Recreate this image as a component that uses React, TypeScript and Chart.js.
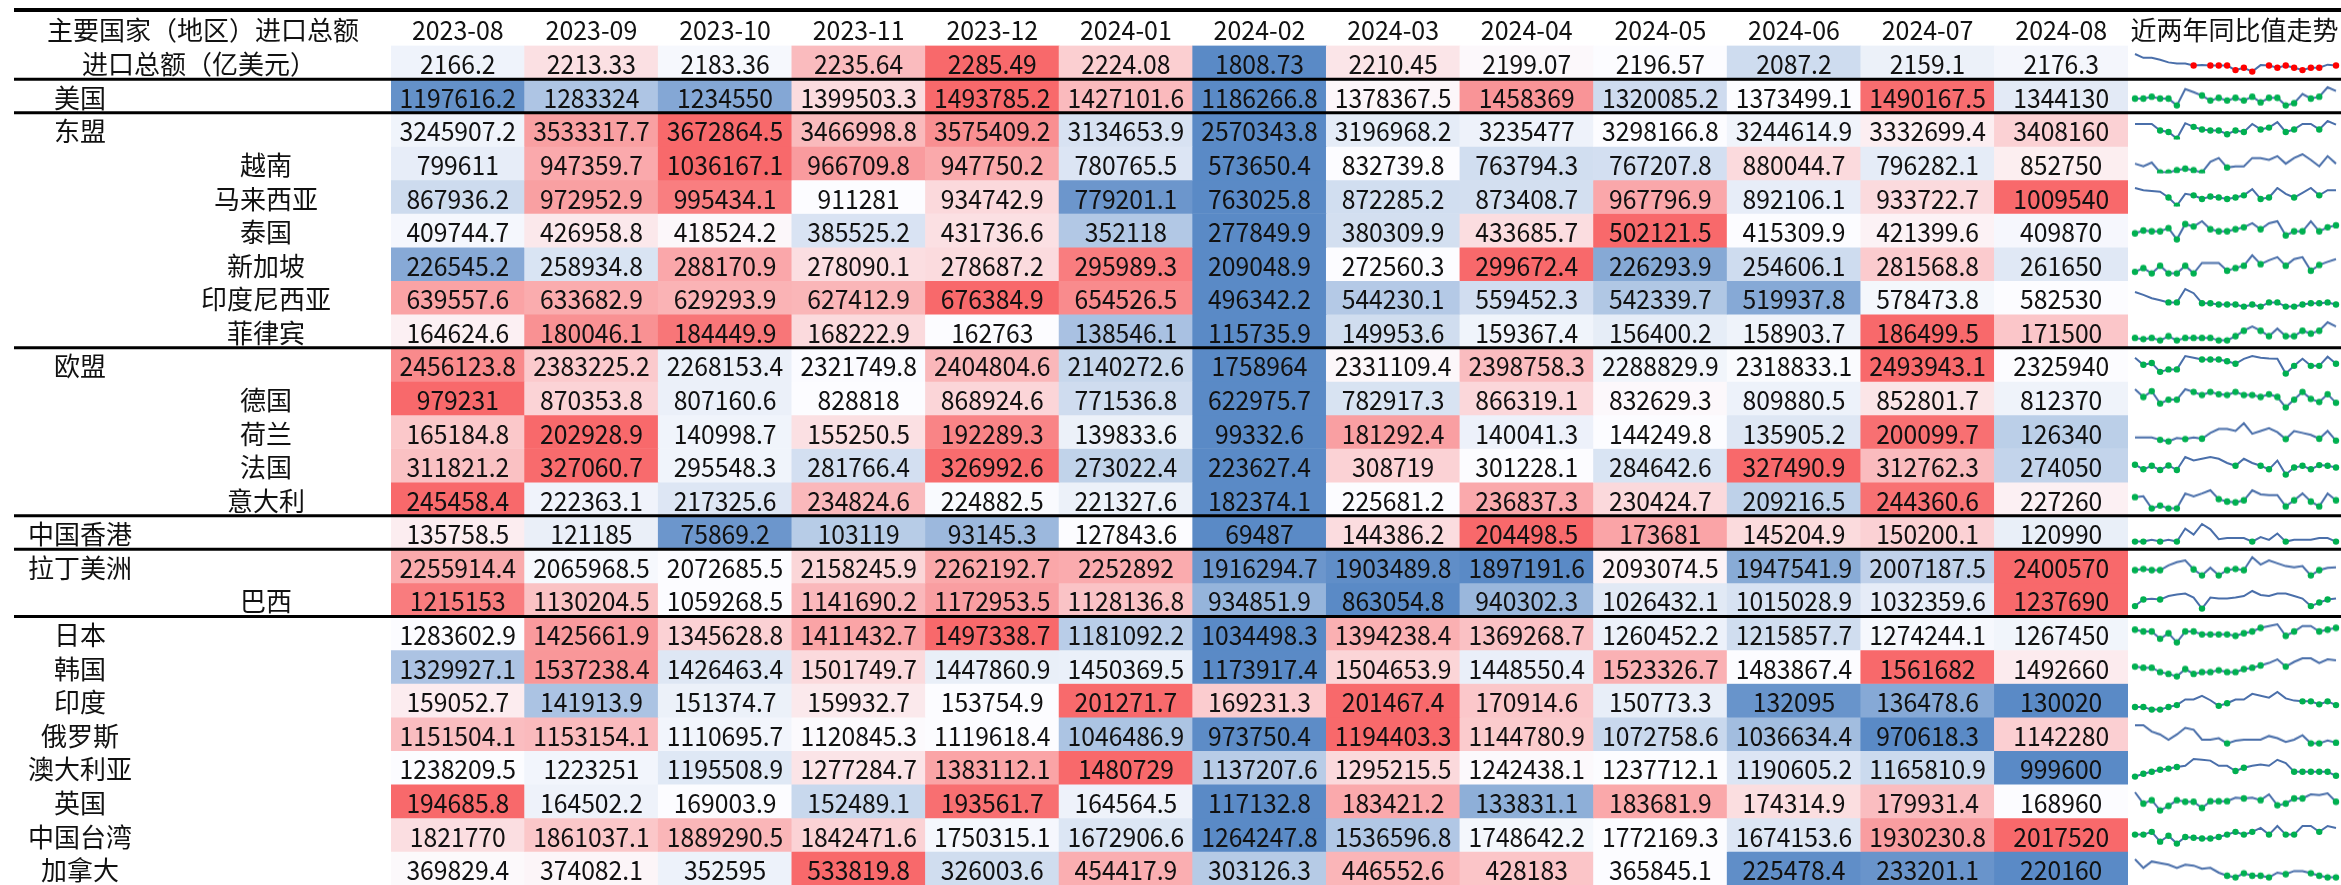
import React, { useEffect, useRef } from 'react';
import { Chart, registerables } from 'chart.js';

Chart.register(...registerables);

// ---------- categories & tick labels ----------
const months = ['2023-08', '2023-09', '2023-10', '2023-11', '2023-12', '2024-01', '2024-02', '2024-03', '2024-04', '2024-05', '2024-06', '2024-07', '2024-08'];
const trendMonths = ['2022-08', '2022-09', '2022-10', '2022-11', '2022-12', '2023-01', '2023-02', '2023-03', '2023-04', '2023-05', '2023-06', '2023-07', '2023-08', '2023-09', '2023-10', '2023-11', '2023-12', '2024-01', '2024-02', '2024-03', '2024-04', '2024-05', '2024-06', '2024-07', '2024-08'];
const headerTitle = '主要国家（地区）进口总额';
const trendTitle = '近两年同比值走势';
const rowNames = ['进口总额（亿美元）', '美国', '东盟', '越南', '马来西亚', '泰国', '新加坡', '印度尼西亚', '菲律宾', '欧盟', '德国', '荷兰', '法国', '意大利', '中国香港', '拉丁美洲', '巴西', '日本', '韩国', '印度', '俄罗斯', '澳大利亚', '英国', '中国台湾', '加拿大'];
// 0 = total row, 1 = country / region, 2 = member of the group above
const rowLevels = [0, 1, 1, 2, 2, 2, 2, 2, 2, 1, 2, 2, 2, 2, 1, 1, 2, 1, 1, 1, 1, 1, 1, 1, 1];
// group separators drawn after these rows
const separatorAfter = [0, 1, 8, 13, 14, 16];

// ---------- monthly import values ----------
const totalImports = [2166.2, 2213.33, 2183.36, 2235.64, 2285.49, 2224.08, 1808.73, 2210.45, 2199.07, 2196.57, 2087.2, 2159.1, 2176.3];
const usa = [1197616.2, 1283324, 1234550, 1399503.3, 1493785.2, 1427101.6, 1186266.8, 1378367.5, 1458369, 1320085.2, 1373499.1, 1490167.5, 1344130];
const asean = [3245907.2, 3533317.7, 3672864.5, 3466998.8, 3575409.2, 3134653.9, 2570343.8, 3196968.2, 3235477, 3298166.8, 3244614.9, 3332699.4, 3408160];
const vietnam = [799611, 947359.7, 1036167.1, 966709.8, 947750.2, 780765.5, 573650.4, 832739.8, 763794.3, 767207.8, 880044.7, 796282.1, 852750];
const malaysia = [867936.2, 972952.9, 995434.1, 911281, 934742.9, 779201.1, 763025.8, 872285.2, 873408.7, 967796.9, 892106.1, 933722.7, 1009540];
const thailand = [409744.7, 426958.8, 418524.2, 385525.2, 431736.6, 352118, 277849.9, 380309.9, 433685.7, 502121.5, 415309.9, 421399.6, 409870];
const singapore = [226545.2, 258934.8, 288170.9, 278090.1, 278687.2, 295989.3, 209048.9, 272560.3, 299672.4, 226293.9, 254606.1, 281568.8, 261650];
const indonesia = [639557.6, 633682.9, 629293.9, 627412.9, 676384.9, 654526.5, 496342.2, 544230.1, 559452.3, 542339.7, 519937.8, 578473.8, 582530];
const philippines = [164624.6, 180046.1, 184449.9, 168222.9, 162763, 138546.1, 115735.9, 149953.6, 159367.4, 156400.2, 158903.7, 186499.5, 171500];
const eu = [2456123.8, 2383225.2, 2268153.4, 2321749.8, 2404804.6, 2140272.6, 1758964, 2331109.4, 2398758.3, 2288829.9, 2318833.1, 2493943.1, 2325940];
const germany = [979231, 870353.8, 807160.6, 828818, 868924.6, 771536.8, 622975.7, 782917.3, 866319.1, 832629.3, 809880.5, 852801.7, 812370];
const netherlands = [165184.8, 202928.9, 140998.7, 155250.5, 192289.3, 139833.6, 99332.6, 181292.4, 140041.3, 144249.8, 135905.2, 200099.7, 126340];
const france = [311821.2, 327060.7, 295548.3, 281766.4, 326992.6, 273022.4, 223627.4, 308719, 301228.1, 284642.6, 327490.9, 312762.3, 274050];
const italy = [245458.4, 222363.1, 217325.6, 234824.6, 224882.5, 221327.6, 182374.1, 225681.2, 236837.3, 230424.7, 209216.5, 244360.6, 227260];
const hongKong = [135758.5, 121185, 75869.2, 103119, 93145.3, 127843.6, 69487, 144386.2, 204498.5, 173681, 145204.9, 150200.1, 120990];
const latinAmerica = [2255914.4, 2065968.5, 2072685.5, 2158245.9, 2262192.7, 2252892, 1916294.7, 1903489.8, 1897191.6, 2093074.5, 1947541.9, 2007187.5, 2400570];
const brazil = [1215153, 1130204.5, 1059268.5, 1141690.2, 1172953.5, 1128136.8, 934851.9, 863054.8, 940302.3, 1026432.1, 1015028.9, 1032359.6, 1237690];
const japan = [1283602.9, 1425661.9, 1345628.8, 1411432.7, 1497338.7, 1181092.2, 1034498.3, 1394238.4, 1369268.7, 1260452.2, 1215857.7, 1274244.1, 1267450];
const korea = [1329927.1, 1537238.4, 1426463.4, 1501749.7, 1447860.9, 1450369.5, 1173917.4, 1504653.9, 1448550.4, 1523326.7, 1483867.4, 1561682, 1492660];
const india = [159052.7, 141913.9, 151374.7, 159932.7, 153754.9, 201271.7, 169231.3, 201467.4, 170914.6, 150773.3, 132095, 136478.6, 130020];
const russia = [1151504.1, 1153154.1, 1110695.7, 1120845.3, 1119618.4, 1046486.9, 973750.4, 1194403.3, 1144780.9, 1072758.6, 1036634.4, 970618.3, 1142280];
const australia = [1238209.5, 1223251, 1195508.9, 1277284.7, 1383112.1, 1480729, 1137207.6, 1295215.5, 1242438.1, 1237712.1, 1190605.2, 1165810.9, 999600];
const uk = [194685.8, 164502.2, 169003.9, 152489.1, 193561.7, 164564.5, 117132.8, 183421.2, 133831.1, 183681.9, 174314.9, 179931.4, 168960];
const taiwan = [1821770, 1861037.1, 1889290.5, 1842471.6, 1750315.1, 1672906.6, 1264247.8, 1536596.8, 1748642.2, 1772169.3, 1674153.6, 1930230.8, 2017520];
const canada = [369829.4, 374082.1, 352595, 533819.8, 326003.6, 454417.9, 303126.3, 446552.6, 428183, 365845.1, 225478.4, 233201.1, 220160];

// ---------- year-on-year trend (last two years, %) ----------
const trendTotal = [14.8, 9.8, 9.8, 7.3, 3.8, 2.3, 2.3, -0.3, 0.2, -0.3, -0.3, -0.3, -6.3, -3.3, -8.3, 0.2, -0.3, -3.3, -0.3, -3.3, -6.3, -3.3, -3.3, 0.8, -0.3];
const trendUSA = [-5, -5, -2.5, -5, -5, -14, 7.5, 3.5, -1, -7.5, -4, -7.5, -4, -7.5, -2.5, -10, -4, -4, -14, -11, 1, -5, -2.5, 10, 5];
const trendASEAN = [2.5, 2.5, 2.5, -6.5, -8.5, -17.5, 3.5, -1.5, -5, -6.5, -6.5, -11.5, -6.5, -8.5, 2.5, -5, -2.5, 5, -8.5, -5, 2.5, 2.5, -5, 6.5, 1.5];
const trendVietnam = [4.3, 0.8, 5.8, -7.3, -7.3, -4.3, -2.3, -4.3, -7.3, 6.8, 11.8, -0.8, 0.8, 0.8, 11.8, 11.8, 9.3, 14.3, 4.3, 11.8, 16.8, 9.3, 0.8, 14.3, 4.3];
const trendMalaysia = [8.5, 5.5, 4.5, 3.5, -4.5, -15.5, 0.5, -1.5, -6.5, -3, -4.5, -6.5, -4.5, -1.5, 7, -6.5, -4.5, 8.5, 0.5, -4.5, 2, 8.5, -1.5, 5.5, 5.5];
const trendThailand = [-12, -8.5, -9.5, -9.5, -5.5, -19.5, -0.5, -3.5, 3, -7, -9.5, -9.5, -7, -4.5, 0.5, -7, 0.5, 3, -14.5, -9.5, -9.5, 3, -9.5, -4.5, -2];
const trendSingapore = [-10.8, -5.8, -12.8, -2.8, -12.8, -12.8, -2.8, -12.8, 0.8, 0.8, 0.8, -9.3, -5.8, -2.8, 10.8, -0.8, 4.3, 8.3, -2.8, 5.8, 8.3, -9.3, -1.8, 2.3, 5.8];
const trendIndonesia = [11, 7.5, 3.5, 1, -1.5, -1.5, 14.5, 9.5, -2.5, -2.5, -4, -4, -4, -6.5, -4, -6.5, -1.5, -1.5, -6.5, -6.5, -4, -2.5, -2.5, -1.5, -4];
const trendPhilippines = [-10, -11.5, -10, -13, -8, -13, -10, -10, -10, -10, -13, -13, -8, -1.5, 3.5, -1.5, -8, 1, -8, -8, -1.5, -5, -1.5, 8.5, 3.5];
const trendEU = [2, -8, -5.5, -18, -14.5, -14.5, 4.5, 2, -0.5, -0.5, -0.5, -3, -6.5, 0.5, 4.5, 2, 1, 0.5, -20.5, -9.5, 0.5, -9.5, -9.5, 3.5, -6.5];
const trendGermany = [1, -9, -1.5, -17.5, -12.5, -12.5, 1, -2.5, -6.5, -2.5, -5.5, -6.5, -2.5, -6.5, -6.5, -9, -5.5, -9, -22.5, -12.5, -2.5, -11.5, -15.5, -5.5, -16.5];
const trendNetherlands = [1, 1, 1, -2, -4, 0.5, -1, 1, -0.5, 7, 12, 12, 9.5, 19.5, 6, 9.5, 13, 8, -1, 9.5, 7, 4.5, -0.5, 9.5, -3];
const trendFrance = [-1, -7.5, -2.5, -8.5, -2, -8.5, 10, 5, 7.5, 10, 7.5, 1.5, -2.5, 7.5, 1.5, -2.5, -7.5, 5, -15, -5, -2.5, -7.5, -1.5, -2.5, -5];
const trendItaly = [-0.5, 0.5, -14.5, -11, -14.5, -14.5, 4, 0.5, 4, 8, -3, -6, -7, -4.5, 8, 3, 2, 2, -12, -4.5, 4, -6, -12, 4, -4.5];
const trendHongKong = [-1.5, -1.5, 1, -1.5, 1, -1.5, 17, 8.5, 23.5, 16, 2, 3.5, 3.5, 3.5, -1.5, 5, 1, 10, -1.5, 1, 1, 1, 3.5, 3.5, -1.5];
const trendLatinAmerica = [-2.5, -1, -2.5, -2.5, 3.5, 7.5, 9.5, -1.5, -9, 0.5, -9, -2.5, -1, -2.5, 13.5, 4.5, 9.5, 6, 2.5, 1, 2.5, -9, -2.5, 0.5, 1];
const trendBrazil = [-7, -0.5, 0.2, -0.5, 3, 4.5, 5.5, 1.5, -9.5, 1.5, 0.5, 0.5, 1.5, 3, 8, 4, 3, 5.5, 5.5, 3, 0.5, -7, -3.5, -0.5, 0.5];
const trendJapan = [-3.5, -6, -6, -16, -8.5, -21, -6, -6, -10, -10, -10, -10, -12, -8.5, -6, -1, 1.5, 4, -12, -6, 1.5, 1.5, -6, -3.5, -1];
const trendKorea = [-2.5, -4, -4, -10, -12.5, -16, -6, -12.5, -10, -10, -7.5, -10, -10, -6, -4, -1, 2.5, 7.5, -2.5, 4, 9, 9, 2.5, 7.5, 6];
const trendIndia = [-8, -8, -11.5, -11.5, -8, -5.5, 2, 2, 7, 1, -6.5, -3, 2, 2, 9.5, 7, 4.5, 12, 3.5, 0.5, -0.5, -0.5, -4.5, -0.5, -5.5];
const trendRussia = [23, 23, 14.5, 10.5, 3.5, 10.5, 19.5, 17, 3.5, 3.5, 5.5, -1.5, 2, 3.5, 3.5, 3.5, 8.5, 5.5, 0.5, 3.5, 9.5, -1.5, -1.5, 2.5, -0.5];
const trendAustralia = [-12.5, -9, -6.5, -4, -2.5, -0.5, 1, 9.5, 8.5, 7.5, 1, 1, -5.5, -1.5, 1, 2.5, 1, 8.5, 4.5, -6.5, -6.5, -6.5, -6.5, -6.5, -11.5];
const trendUK = [8.5, -8, -3, -18, -11.5, -3, -5.5, -5.5, -14.5, -4.5, -4.5, -4.5, 0.5, -0.5, 0.5, -3, 5.5, -10.5, -8, -0.5, -0.5, 5.5, 4.5, 7, -5.5];
const trendTaiwan = [-6, -6, -2.5, -15, -7.5, -17.5, -9, -10, -11, -11, -9, -6, -2.5, -6, -2.5, 2.5, -6, 5, -6, -6, 5, 5, -2.5, 5, 2.5];
const trendCanada = [21.5, 8, 18, 15.5, 13, 8, 13, 11.5, 6.5, 8, 0.5, -4.5, -7, -0.5, -4.5, -4.5, -7, 0.5, -2, 3, 3, -0.5, -4.5, -7, -7];

const tableRows = [totalImports, usa, asean, vietnam, malaysia, thailand, singapore, indonesia, philippines, eu, germany, netherlands, france, italy, hongKong, latinAmerica, brazil, japan, korea, india, russia, australia, uk, taiwan, canada];
const trendRows = [trendTotal, trendUSA, trendASEAN, trendVietnam, trendMalaysia, trendThailand, trendSingapore, trendIndonesia, trendPhilippines, trendEU, trendGermany, trendNetherlands, trendFrance, trendItaly, trendHongKong, trendLatinAmerica, trendBrazil, trendJapan, trendKorea, trendIndia, trendRussia, trendAustralia, trendUK, trendTaiwan, trendCanada];

// ---------- layout & style ----------
const W = 2341;
const H = 885;
const LABEL_RIGHT = 391;
const SPARK_W = 213;
const HEADER_BOTTOM = 45.6;
const ROW_H = (H - HEADER_BOTTOM) / tableRows.length;
const FONT = '"Noto Sans CJK SC", "Noto Sans", sans-serif';
const BLUE = [90, 138, 198];
const MID = [252, 252, 255];
const RED = [248, 105, 107];

function mix(a: number[], b: number[], t: number) {
  const c = a.map((v, k) => Math.round(v + (b[k] - v) * Math.max(0, Math.min(1, t))));
  return `rgb(${c[0]},${c[1]},${c[2]})`;
}

// three-colour scale per row (min blue, 50th percentile white, max red)
function cellColor(v: number, row: number[]) {
  const s = [...row].sort((a, b) => a - b);
  const min = s[0];
  const max = s[s.length - 1];
  const pos = (s.length - 1) * 0.5;
  const lo = Math.floor(pos);
  const hi = Math.ceil(pos);
  const med = s[lo] + (s[hi] - s[lo]) * (pos - lo);
  if (v <= med) return mix(BLUE, MID, med === min ? 1 : (v - min) / (med - min));
  return mix(MID, RED, (v - med) / (max - med));
}

function drawCondensed(ctx: CanvasRenderingContext2D, text: string, x: number, y: number, sx: number) {
  ctx.save();
  ctx.translate(x, y);
  ctx.scale(sx, 1);
  ctx.fillText(text, 0, 0);
  ctx.restore();
}

const tablePlugin = {
  id: 'tableText',
  afterDatasetsDraw(chart: any) {
    const ctx: CanvasRenderingContext2D = chart.ctx;
    const xs = chart.scales.x;
    const ys = chart.scales.y;
    ctx.save();
    ctx.fillStyle = '#111';
    ctx.textAlign = 'center';
    ctx.textBaseline = 'middle';
    ctx.font = `26px ${FONT}`;

    const hy = ys.getPixelForValue(-0.5) + 1.5;
    ctx.fillText(headerTitle, 203, hy);
    months.forEach((m, j) => drawCondensed(ctx, m, xs.getPixelForValue(j), hy, 0.96));
    ctx.fillText(trendTitle, chart.chartArea.right + SPARK_W / 2, hy);

    tableRows.forEach((vals, i) => {
      const cy = ys.getPixelForValue(i + 0.5) + 2;
      const lx = rowLevels[i] === 0 ? 199 : rowLevels[i] === 1 ? 80 : 266;
      ctx.fillText(rowNames[i], lx, cy);
      vals.forEach((v, j) => drawCondensed(ctx, String(v), xs.getPixelForValue(j), cy, 0.95));
    });

    ctx.strokeStyle = '#000';
    ctx.lineWidth = 4;
    ctx.beginPath();
    const topY = ys.getPixelForValue(-1) - 2;
    ctx.moveTo(14, topY);
    ctx.lineTo(chart.width, topY);
    ctx.stroke();
    ctx.lineWidth = 3;
    separatorAfter.forEach((r) => {
      const yy = ys.getPixelForValue(r + 1);
      ctx.beginPath();
      ctx.moveTo(14, yy);
      ctx.lineTo(chart.width, yy);
      ctx.stroke();
    });
    ctx.restore();
  },
};

function Sparkline({ values, index }: { values: number[]; index: number }) {
  const ref = useRef<HTMLCanvasElement>(null);
  useEffect(() => {
    const marker = index === 0 ? '#FF0000' : '#00B050';
    const chart = new Chart(ref.current as HTMLCanvasElement, {
      type: 'line',
      data: {
        labels: trendMonths,
        datasets: [
          {
            data: values,
            borderColor: '#4A6FAA',
            borderWidth: 2,
            tension: 0,
            pointRadius: (c: any) => (c.raw < 0 ? 3.2 : 0),
            pointBackgroundColor: marker,
            pointBorderColor: marker,
            pointBorderWidth: 0,
          },
        ],
      },
      options: {
        animation: false,
        responsive: true,
        maintainAspectRatio: false,
        events: [],
        layout: { padding: { left: 7, right: 5, top: 8, bottom: 8 } },
        scales: {
          x: { display: false },
          y: { display: false, bounds: 'data' },
        },
        plugins: { legend: { display: false }, tooltip: { enabled: false } },
      },
    } as any);
    return () => chart.destroy();
  }, [values, index]);
  return (
    <div
      style={{
        position: 'absolute',
        left: W - SPARK_W,
        top: HEADER_BOTTOM + ROW_H * index,
        width: SPARK_W,
        height: ROW_H,
      }}
    >
      <canvas ref={ref} />
    </div>
  );
}

export default function App() {
  const ref = useRef<HTMLCanvasElement>(null);
  useEffect(() => {
    const datasets = tableRows.map((vals, i) => ({
      label: rowNames[i],
      data: vals.map(() => [i, i + 1]),
      backgroundColor: vals.map((v) => cellColor(v, vals)),
      borderWidth: 0,
      barPercentage: 1,
      categoryPercentage: 1,
      grouped: false,
    }));
    const chart = new Chart(ref.current as HTMLCanvasElement, {
      type: 'bar',
      data: { labels: months, datasets },
      options: {
        animation: false,
        responsive: true,
        maintainAspectRatio: false,
        events: [],
        layout: { padding: { left: LABEL_RIGHT, right: SPARK_W, top: HEADER_BOTTOM, bottom: 0 } },
        scales: {
          x: { type: 'category', display: false, offset: true, grid: { display: false } },
          y: { type: 'linear', display: false, min: 0, max: tableRows.length, reverse: true },
        },
        plugins: { legend: { display: false }, tooltip: { enabled: false } },
      },
      plugins: [tablePlugin],
    } as any);
    return () => chart.destroy();
  }, []);

  return (
    <div style={{ position: 'absolute', left: 0, top: 0, width: W, height: H, background: '#fff', overflow: 'hidden' }}>
      <div style={{ position: 'absolute', left: 0, top: 0, width: W, height: H }}>
        <canvas ref={ref} />
      </div>
      {trendRows.map((vals, i) => (
        <Sparkline key={i} values={vals} index={i} />
      ))}
    </div>
  );
}
